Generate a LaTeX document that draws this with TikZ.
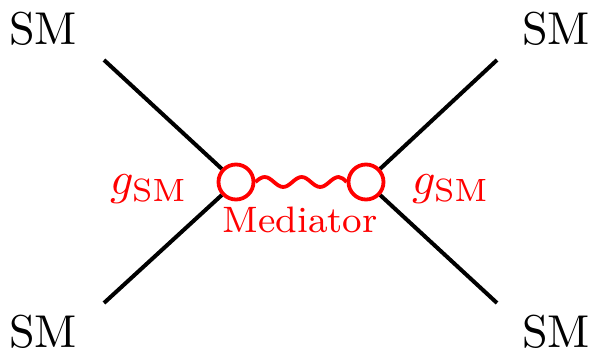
\documentclass[tikz,border=0pt]{standalone}
\usepackage{amsmath}
\usepackage{xcolor}
\usepackage{tikz}
\usetikzlibrary{positioning, calc}
\tikzstyle{vertex} = [circle, draw=red, line width=3.8pt, minimum size=35pt, inner sep=0pt]
\tikzstyle{fermion} = [line width=4pt, black]
\tikzstyle{mediator} = [line width=3.8pt, red]
\tikzstyle{ext} = [scale=4.6, anchor=base, inner sep=0pt]
\tikzstyle{coupling} = [text=red, scale=4.6, anchor=base, inner sep=0pt]

\begin{document}
\begin{tikzpicture}[x=1pt, y=1pt]
    \useasboundingbox (0,0) rectangle (595,356);

    % Vertices
    \node (vl) [vertex] at (236,174) {};
    \node (vr) [vertex] at (366,174) {};

    % External legs
    \coordinate (tl) at (104,296);
    \coordinate (bl) at (104,53);
    \coordinate (tr) at (497,296);
    \coordinate (br) at (497,53);
    \node (smtl) [ext] at (43,311) {SM};
    \node (smbl) [ext] at (43,8) {SM};
    \node (smtr) [ext] at (556,311) {SM};
    \node (smbr) [ext] at (556,8) {SM};

    \draw [fermion] (tl) -- (vl);
    \draw [fermion] (bl) -- (vl);
    \draw [fermion] (tr) -- (vr);
    \draw [fermion] (br) -- (vr);

    % Mediator
    \draw [mediator] (vl.east) sin ++(9.25,5) cos ++(9.25,-5) sin ++(9.25,-5) cos ++(9.25,5)
        sin ++(9.25,5) cos ++(9.25,-5) sin ++(9.25,-5) cos ++(9.25,5)
        sin ++(9.25,5) cos (vr.west);
    \node (med) [text=red, scale=4.6, anchor=base, inner sep=0pt, font=\footnotesize] at (300,123) {Mediator};

    % Couplings
    \node (gl) [coupling] at (149,161) {$g_{\text{SM}}$};
    \node (gr) [coupling] at (451,161) {$g_{\text{SM}}$};

\end{tikzpicture}
\end{document}
